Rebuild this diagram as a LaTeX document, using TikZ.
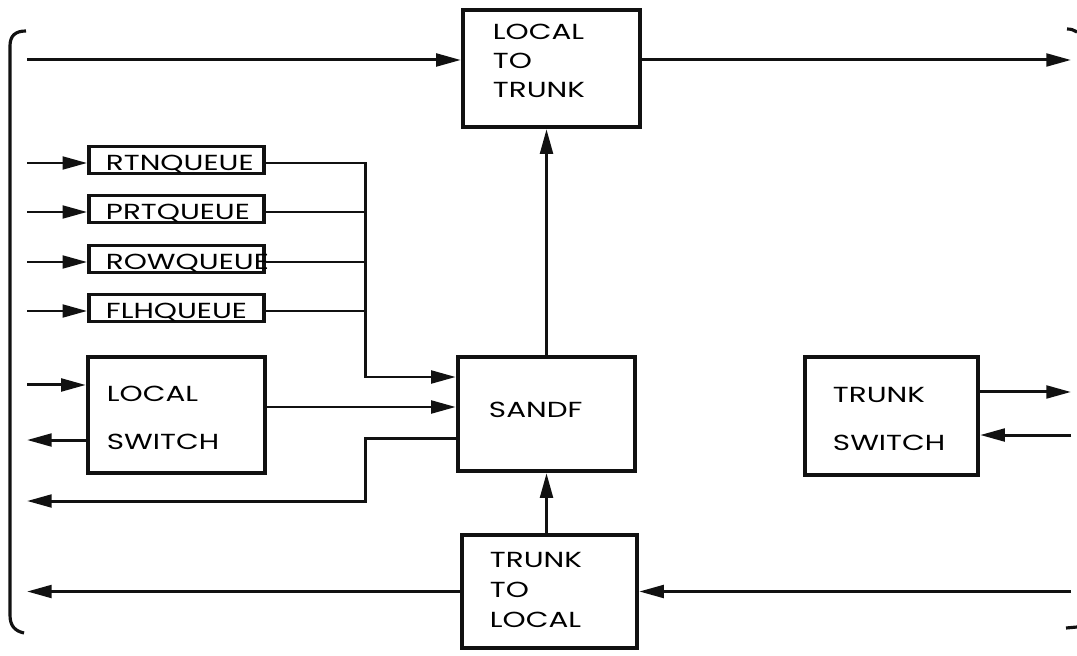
\documentclass[tikz,border=0pt]{standalone}
\usepackage{fontspec}
\setmainfont{Poppins}[FakeStretch=1.35]
\usetikzlibrary{arrows.meta,positioning}
\definecolor{SWInk}{HTML}{111111}
\tikzset{
  swbox/.style={
    draw=SWInk,
    line width=1.2pt,
    align=left,
    inner ysep=0pt,
    font=\fontsize{6.2}{8.2}\selectfont
  },
  swwide/.style={font=\fontsize{6.2}{13.6}\selectfont},
  swqueue/.style={
    draw=SWInk,
    line width=1pt,
    align=left,
    text width=1.41cm,
    inner xsep=0.17cm,
    inner ysep=0pt,
    text height=0.24cm,
    text depth=0.03cm,
    font=\fontsize{6.2}{8}\selectfont
  },
  swflow/.style={-{Triangle[length=7pt,width=3.6pt]},draw=SWInk,line width=0.85pt},
  swline/.style={draw=SWInk,line width=0.85pt},
  swbrace/.style={draw=SWInk,line width=0.9pt}
}

\begin{document}
\begin{tikzpicture}[x=0.01cm,y=-0.01cm]
  \useasboundingbox (0,0) rectangle (1077,655);
  % boxes
  \node[swbox,text width=1.17cm,inner xsep=0.30cm,text height=0.30cm,text depth=0.87cm] (l2t) at (551.5,68.5) {LOCAL\\TO\\TRUNK};
  \node[swbox,text width=1.15cm,inner xsep=0.31cm,text height=0.60cm,text depth=0.54cm] (sandf) at (546.5,414) {SANDF};
  \node[swbox,text width=1.19cm,inner xsep=0.28cm,text height=0.33cm,text depth=0.80cm,font=\fontsize{6.2}{8.5}\selectfont] (t2l) at (549.5,591.5) {TRUNK\\TO\\LOCAL};
  \node[swbox,swwide,text width=1.39cm,inner xsep=0.19cm,text height=0.45cm,text depth=0.71cm] (lsw) at (176.5,415) {LOCAL\\SWITCH};
  \node[swbox,swwide,text width=1.17cm,inner xsep=0.28cm,text height=0.46cm,text depth=0.72cm] (tsw) at (891.5,416) {TRUNK\\SWITCH};
  \node[swqueue] (rtn) at (176.5,160) {RTNQUEUE};
  \node[swqueue] (prt) at (176.5,209) {PRTQUEUE};
  \node[swqueue] (row) at (176.5,259) {ROWQUEUE};
  \node[swqueue] (flh) at (176.5,308) {FLHQUEUE};
  % free ends
  \coordinate (edgeL) at (27,0);
  \coordinate (edgeR) at (1071,0);
  \coordinate (bus) at (365,377);
  \coordinate (ret) at (365,501);
  % local to trunk
  \draw[swflow] ([yshift=0.085cm]l2t.west -| edgeL) -- ([yshift=0.085cm]l2t.west);
  \draw[swflow] ([yshift=0.085cm]l2t.east) -- ([yshift=0.085cm]l2t.east -| edgeR);
  \draw[swflow] (sandf.north) -- (sandf.north |- l2t.south);
  % queues
  \foreach \q in {rtn,prt,row,flh}
    \draw[swflow] ([yshift=-0.03cm]\q.west -| edgeL) -- ([yshift=-0.03cm]\q.west);
  \draw[swflow] ([yshift=-0.03cm]rtn.east) -| (bus) -- (bus -| sandf.west);
  \foreach \q in {prt,row,flh}
    \draw[swline] ([yshift=-0.03cm]\q.east) -- ([yshift=-0.03cm]\q.east -| bus);
  % local switch
  \draw[swflow] ([yshift=0.30cm]lsw.west -| edgeL) -- ([yshift=0.30cm]lsw.west);
  \draw[swflow] ([yshift=-0.25cm]lsw.west) -- ([yshift=-0.25cm]lsw.west -| edgeL);
  \draw[swflow] ([yshift=0.08cm]lsw.east) -- ([yshift=0.08cm]lsw.east -| sandf.west);
  \draw[swflow] ([yshift=-0.24cm]sandf.west) -| (ret) -- (ret -| edgeL);
  % trunk to local
  \draw[swflow] (t2l.east -| edgeR) -- (t2l.east);
  \draw[swflow] (t2l.west) -- (t2l.west -| edgeL);
  \draw[swflow] (sandf.south |- t2l.north) -- (sandf.south);
  % trunk switch
  \draw[swflow] ([yshift=0.24cm]tsw.east) -- ([yshift=0.24cm]tsw.east -| edgeR);
  \draw[swflow] ([yshift=-0.19cm]tsw.east -| edgeR) -- ([yshift=-0.19cm]tsw.east);
  % bracket
  \draw[swbrace] (26,31) .. controls (15,31) and (10,36) .. (10,46) -- (10,615) .. controls (10,626) and (15,631) .. (24,633);
  \draw[swbrace] (1067,29) .. controls (1071,29) and (1074,30) .. (1077,32);
  \draw[swbrace] (1066,628) -- (1077,627);
\end{tikzpicture}
\end{document}
